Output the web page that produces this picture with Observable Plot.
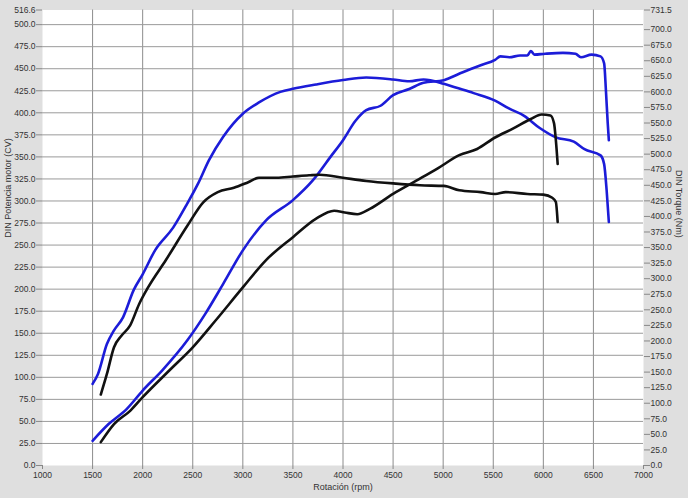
<!DOCTYPE html>
<html>
<head>
<meta charset="utf-8">
<script src="https://cdn.jsdelivr.net/npm/d3@7"></script>
<script src="https://cdn.jsdelivr.net/npm/@observablehq/plot@0.6"></script>
<style>
  html, body { margin: 0; padding: 0; background: #dfdfdf; }
  #chart { width: 688px; height: 498px; }
</style>
</head>
<body>
<div id="chart"></div>
<script>
// ---- data ----
const bluePowerRpm = [1500,1660,1840,2000,2196,2446,2625,2804,3000,3232,3500,3696,3875,4000,4125,4232,4375,4500,4661,4804,5007,5053,5196,5375,5518,5571,5661,5768,5840,5875,5911,6018,6196,6321,6375,6482,6571,6607,6625,6643,6654];
const bluePowerCV = [28,47,64,85,108,142,172,206,244,278,301,323,350,369,391,403,408,420,427,434,437,439,446,454,460,464,463,465,465,470,466,467,468,467,463,466,464,456,425,388,369];

const blackPowerRpm = [1582,1714,1875,2000,2268,2500,2732,3000,3232,3500,3732,3911,4018,4143,4268,4500,4732,4946,5161,5339,5518,5696,5875,5982,6071,6107,6125,6143];
const blackPowerCV = [26.5,47,62,77.5,108,134,165,202,233,259,280,289,287,285,291,308,323,337,352,359,372,382,393,398,397,388,369,342];

const blueTorqueRpm = [1500,1554,1643,1714,1804,1911,2000,2125,2304,2446,2554,2661,2804,3000,3161,3375,3500,3732,4000,4232,4500,4661,4804,5007,5125,5304,5518,5661,5804,5964,6125,6304,6411,6571,6607,6632,6654];
const blueTorqueNm = [131,147,195,217,238,282,307,346,382,421,453,490,528,565,583,600,605,612,619,623,620,617,620,613,607,598,586,573,562,542,527,520,508,498,484,442,391];

const blackTorqueRpm = [1582,1643,1714,1786,1875,1964,2054,2232,2446,2607,2750,2911,3054,3161,3339,3500,3661,3768,4000,4232,4500,4768,5007,5161,5375,5518,5625,5840,6000,6089,6125,6143];
const blackTorqueNm = [114,147,190,208,225,259,286,330,385,423,439,446,455,462,462,464,466,467,462,457,453,450,449,442,439,436,439,436,435,430,423,391];

const xTicks = d3.range(1000, 7001, 500);
const cvTicks = d3.range(0, 501, 25).concat([516.6]);
const nmTicks = d3.range(0, 701, 25).concat([731.5]);
const cvMax = 516.6, nmMax = 731.5;
const k = cvMax / nmMax; // Nm -> left-axis units

const toRows = (rpm, vals, f = v => v) => rpm.map((r, i) => ({rpm: r, v: f(vals[i])}));
const bp = toRows(bluePowerRpm, bluePowerCV);
const kp = toRows(blackPowerRpm, blackPowerCV);
const bt = toRows(blueTorqueRpm, blueTorqueNm, v => v * k);
const kt = toRows(blackTorqueRpm, blackTorqueNm, v => v * k);

const fmt1 = v => (Math.round(v * 10) / 10).toFixed(1);

const chart = Plot.plot({
  width: 688,
  height: 498,
  marginLeft: 42,
  marginRight: 45,
  marginTop: 9.5,
  marginBottom: 33,
  style: {background: "#dfdfdf", fontFamily: "'Liberation Sans', Arial, sans-serif", fontSize: "8.5px", color: "#333"},
  x: {domain: [1000, 7000]},
  y: {domain: [0, cvMax]},
  marks: [
    Plot.frame({fill: "white", stroke: null}),
    Plot.ruleX(xTicks.filter(d => d > 1000 && d < 7000), {stroke: "#8c8c8c", strokeWidth: 1}),
    Plot.ruleY(cvTicks.filter(d => d > 0 && d < 510), {stroke: "#9a9a9a", strokeWidth: 1}),
    Plot.axisX({ticks: xTicks, tickFormat: d => String(d), tickSize: 4, tickPadding: 2, stroke: "#888", fill: "#333", label: null}),
    Plot.axisY({ticks: cvTicks, tickFormat: fmt1, tickSize: 6, tickPadding: 1, stroke: "#888", fill: "#333", label: null}),
    Plot.axisY({anchor: "right", ticks: nmTicks.map(n => n * k), tickFormat: v => fmt1(v / k), tickSize: 6, tickPadding: 1, stroke: "#888", fill: "#333", label: null}),
    Plot.line(bt, {x: "rpm", y: "v", stroke: "#1c1cd8", strokeWidth: 2.6, curve: "monotone-x"}),
    Plot.line(bp, {x: "rpm", y: "v", stroke: "#1c1cd8", strokeWidth: 2.6, curve: "monotone-x"}),
    Plot.line(kt, {x: "rpm", y: "v", stroke: "#111", strokeWidth: 2.6, curve: "monotone-x"}),
    Plot.line(kp, {x: "rpm", y: "v", stroke: "#111", strokeWidth: 2.6, curve: "monotone-x"}),
    Plot.text(["Rotación (rpm)"], {frameAnchor: "bottom", dy: 24, fill: "#333", fontSize: 9}),
    Plot.text(["DIN Potencia motor (CV)"], {frameAnchor: "left", dx: -34, rotate: -90, fill: "#333", fontSize: 9}),
    Plot.text(["DIN Torque (Nm)"], {frameAnchor: "right", dx: 35, rotate: 90, fill: "#333", fontSize: 9})
  ]
});
document.getElementById("chart").appendChild(chart);
</script>
</body>
</html>
